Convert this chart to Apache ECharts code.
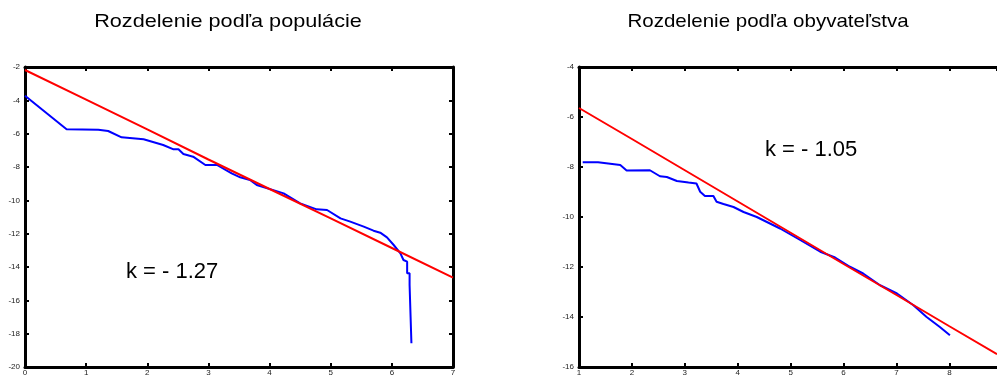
<!DOCTYPE html>
<html>
<head>
<meta charset="utf-8">
<script src="https://cdn.jsdelivr.net/npm/echarts@6/dist/echarts.min.js"></script>
<style>
html,body{margin:0;padding:0;background:#fff;}
#c{width:997px;height:376px;}
</style>
</head>
<body>
<div id="c"></div>
<script>
// ---- data ----
const titles = ['Rozdelenie podľa populácie', 'Rozdelenie podľa obyvateľstva'];
const kLabels = ['k = - 1.27', 'k = - 1.05'];

const leftXTicks = [0, 7, 1];      // min, max, interval
const leftYTicks = [-20, -2, 2];
const rightXTicks = [1, 8.9, 1];
const rightYTicks = [-16, -4, 2];

// left panel: empirical (blue) and fitted (red)
const leftBlue = [
  [0.00, -3.72], [0.68, -5.74], [1.20, -5.76], [1.36, -5.84], [1.58, -6.22],
  [1.94, -6.34], [2.26, -6.68], [2.43, -6.94], [2.51, -6.94], [2.59, -7.22],
  [2.75, -7.38], [2.95, -7.88], [3.14, -7.88], [3.38, -8.38], [3.52, -8.62],
  [3.68, -8.78], [3.79, -9.08], [4.23, -9.58], [4.50, -10.18], [4.77, -10.54],
  [4.94, -10.58], [5.16, -11.08], [5.32, -11.28], [5.54, -11.58], [5.70, -11.82],
  [5.81, -11.94], [5.92, -12.22], [6.03, -12.68], [6.14, -13.18], [6.19, -13.58],
  [6.25, -13.68], [6.25, -14.38], [6.29, -14.38], [6.29, -15.08], [6.32, -15.08],
  [6.32, -18.58]
];
const leftRed = [
  [0.00, -2.18], [1.00, -3.96], [2.00, -5.74], [3.00, -7.55], [4.00, -9.32],
  [5.00, -11.08], [6.00, -12.86], [7.00, -14.64]
];

// right panel
const rightBlue = [
  [1.07, -7.81], [1.36, -7.81], [1.78, -7.92], [1.90, -8.14], [2.34, -8.13],
  [2.53, -8.37], [2.66, -8.40], [2.85, -8.56], [3.07, -8.62], [3.22, -8.66],
  [3.29, -8.99], [3.38, -9.16], [3.54, -9.16], [3.60, -9.39], [3.73, -9.48],
  [3.92, -9.60], [4.11, -9.80], [4.36, -10.00], [4.80, -10.46], [5.18, -10.92],
  [5.56, -11.39], [5.84, -11.62], [6.12, -11.99], [6.37, -12.26], [6.69, -12.73],
  [7.01, -13.06], [7.32, -13.53], [7.57, -14.00], [7.82, -14.40], [8.01, -14.73]
];
const rightRed = [
  [1.00, -5.64], [2.00, -6.88], [3.00, -8.13], [4.00, -9.38], [5.00, -10.63],
  [6.00, -11.88], [7.00, -13.12], [8.00, -14.37], [8.90, -15.49]
];

// ---- chart ----
const chart = echarts.init(document.getElementById('c'), null, {renderer: 'canvas'});
const labelFont = {fontSize: 8, color: '#222', fontFamily: "'Liberation Sans Narrow','Liberation Sans',Arial,sans-serif"};
const axisLine = {show: true, onZero: false, lineStyle: {color: '#000', width: 3}};
const noLine = {show: false};
const tick = {show: true, inside: true, length: 4, lineStyle: {color: '#000', width: 2}};

function xAx(g, t, pos, showLabel, showMax) {
  return {type: 'value', gridIndex: g, position: pos, min: t[0], max: t[1], interval: t[2],
    axisLine: axisLine, axisTick: tick, splitLine: {show: false},
    axisLabel: Object.assign({show: showLabel, margin: 2, showMaxLabel: showMax}, labelFont)};
}
function yAx(g, t, pos, showLabel, showLine) {
  return {type: 'value', gridIndex: g, position: pos, min: t[0], max: t[1], interval: t[2],
    axisLine: showLine ? axisLine : noLine, axisTick: showLine ? tick : {show: false}, splitLine: {show: false},
    axisLabel: Object.assign({show: showLabel, margin: 5}, labelFont)};
}

const line = (data, color, xi, yi) => ({
  type: 'line', data: data, xAxisIndex: xi, yAxisIndex: yi, showSymbol: false, symbol: 'none',
  lineStyle: {color: color, width: 2}, animation: false, z: color === '#ff0000' ? 3 : 2
});

const titleStyle = (txt) => ({text: txt, fontSize: 19, fill: '#000', align: 'center', verticalAlign: 'middle',
  fontFamily: "'Liberation Sans',Arial,sans-serif"});

chart.setOption({
  backgroundColor: '#fff',
  animation: false,
  grid: [
    {left: 25, top: 67, width: 428, height: 300, outerBoundsMode: 'none', containLabel: false},
    {left: 579, top: 67, width: 418, height: 300, outerBoundsMode: 'none', containLabel: false}
  ],
  xAxis: [
    xAx(0, leftXTicks, 'bottom', true, true),
    xAx(0, leftXTicks, 'top', false, true),
    xAx(1, rightXTicks, 'bottom', true, false),
    xAx(1, rightXTicks, 'top', false, false)
  ],
  yAxis: [
    yAx(0, leftYTicks, 'left', true, true),
    yAx(0, leftYTicks, 'right', false, true),
    yAx(1, rightYTicks, 'left', true, true),
    yAx(1, rightYTicks, 'right', false, false)
  ],
  graphic: [
    {type: 'text', x: 228, y: 22, scaleX: 1.14, style: titleStyle(titles[0])},
    {type: 'text', x: 768, y: 22, scaleX: 1.08, style: titleStyle(titles[1])},
    {type: 'text', left: 126, top: 261,
      style: {text: kLabels[0], fontSize: 22, fill: '#000', fontFamily: "'Liberation Sans',Arial,sans-serif"}},
    {type: 'text', left: 765, top: 139,
      style: {text: kLabels[1], fontSize: 22, fill: '#000', fontFamily: "'Liberation Sans',Arial,sans-serif"}}
  ],
  series: [
    line(leftBlue, '#0000ff', 0, 0),
    line(leftRed, '#ff0000', 0, 0),
    line(rightBlue, '#0000ff', 2, 2),
    line(rightRed, '#ff0000', 2, 2)
  ]
});
</script>
</body>
</html>
